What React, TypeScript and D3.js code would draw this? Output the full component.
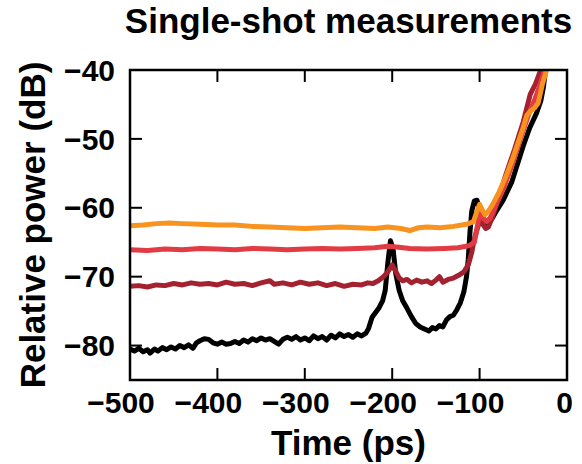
import React from "react";
import * as d3 from "d3";

const xTicks = [-500, -400, -300, -200, -100, 0];
const yTicks = [-80, -70, -60, -50, -40];

const blackSeries: [number, number][] = [
  [-500, -80.5], [-495, -80.8], [-490, -80.4], [-485, -80.9], [-480, -80.6], [-477, -81.1],
  [-472, -80.5], [-468, -80.8], [-463, -80.3], [-458, -80.6], [-453, -80.2], [-448, -80.5],
  [-443, -80.0], [-438, -80.3], [-433, -79.9], [-428, -80.4], [-424, -79.6], [-420, -79.3],
  [-415, -79.0], [-410, -79.1], [-405, -79.6], [-400, -79.8], [-395, -79.5], [-390, -79.8],
  [-385, -79.7], [-380, -79.4], [-375, -79.7], [-370, -79.2], [-365, -79.5], [-360, -79.0],
  [-355, -79.3], [-350, -78.9], [-345, -79.2], [-340, -79.0], [-335, -79.4], [-330, -79.8],
  [-325, -79.1], [-320, -78.8], [-315, -79.1], [-310, -78.7], [-305, -79.2], [-300, -78.9],
  [-295, -79.3], [-290, -78.6], [-285, -79.0], [-280, -78.7], [-275, -79.2], [-270, -78.5],
  [-265, -78.9], [-260, -78.3], [-255, -78.7], [-250, -78.4], [-245, -78.8], [-240, -78.3],
  [-235, -78.6], [-230, -78.2], [-227, -77.5], [-223, -75.9], [-219, -75.2], [-215, -74.5],
  [-211, -73.5], [-208, -72.0], [-205, -68.0], [-202, -64.8], [-199, -66.0], [-196, -69.5],
  [-192, -72.0], [-188, -73.5], [-183, -74.6], [-178, -75.8], [-173, -76.8], [-168, -77.3],
  [-163, -77.6], [-158, -77.9], [-154, -77.4], [-150, -77.6], [-146, -77.1], [-142, -77.3],
  [-138, -76.3], [-134, -75.8], [-130, -75.6], [-126, -74.8], [-122, -73.8], [-118, -72.2],
  [-115, -70.0], [-113, -67.5], [-111, -63.5], [-109, -60.5], [-106, -59.0], [-103, -58.9],
  [-100, -60.2], [-97, -61.4], [-93, -62.4], [-89, -62.2], [-85, -61.4], [-80, -60.3],
  [-73, -58.9], [-63, -56.2], [-55, -53.0], [-50, -51.0], [-43, -48.5], [-35, -46.3],
  [-30, -44.5], [-27, -42.5], [-25, -40.5], [-24, -39.5],
];

const darkRedSeries: [number, number][] = [
  [-500, -71.4], [-490, -71.3], [-480, -71.5], [-470, -71.2], [-460, -71.3], [-450, -71.0],
  [-440, -71.2], [-430, -70.9], [-420, -71.1], [-410, -71.0], [-400, -71.2], [-390, -70.8],
  [-380, -71.1], [-370, -71.0], [-360, -71.3], [-350, -70.9], [-340, -70.6], [-335, -71.1],
  [-325, -70.9], [-315, -71.2], [-305, -70.8], [-295, -71.1], [-285, -70.9], [-275, -71.3],
  [-265, -71.0], [-255, -71.4], [-245, -71.1], [-235, -71.2], [-228, -70.9], [-222, -71.0],
  [-216, -70.6], [-210, -70.0], [-205, -69.3], [-200, -68.3], [-196, -69.2], [-192, -70.2],
  [-188, -70.6], [-183, -70.4], [-178, -70.9], [-172, -70.5], [-166, -70.8], [-160, -70.6],
  [-155, -71.0], [-150, -70.5], [-146, -70.0], [-142, -70.8], [-136, -70.4], [-130, -70.2],
  [-124, -69.8], [-118, -69.3], [-113, -68.3], [-109, -66.5], [-106, -64.5], [-103, -63.2],
  [-100, -62.0], [-97, -62.3], [-93, -63.0], [-90, -62.8], [-85, -61.2], [-78, -58.5],
  [-70, -55.2], [-60, -51.5], [-50, -47.5], [-42, -43.5], [-36, -42.0], [-31, -40.3],
  [-29, -39.5],
];

const redSeries: [number, number][] = [
  [-500, -66.1], [-480, -66.2], [-460, -66.0], [-440, -66.1], [-420, -65.9], [-400, -66.0],
  [-380, -66.1], [-360, -65.9], [-340, -66.0], [-320, -66.1], [-300, -66.0], [-280, -65.9],
  [-260, -66.0], [-240, -65.9], [-220, -65.8], [-205, -65.6], [-195, -65.7], [-180, -65.9],
  [-160, -66.0], [-140, -65.9], [-125, -65.8], [-112, -65.5], [-106, -65.0], [-103, -63.0],
  [-101, -61.5], [-99, -60.8], [-96, -61.5], [-92, -62.0], [-88, -61.5], [-82, -59.8],
  [-72, -57.0], [-62, -53.5], [-52, -49.5], [-44, -46.5], [-36, -44.0], [-30, -41.8],
  [-26, -40.2], [-25, -39.5],
];

const orangeSeries: [number, number][] = [
  [-500, -62.6], [-485, -62.5], [-470, -62.3], [-455, -62.2], [-440, -62.3], [-420, -62.4],
  [-400, -62.5], [-380, -62.5], [-360, -62.7], [-340, -62.8], [-320, -62.9], [-300, -63.0],
  [-280, -62.9], [-260, -62.8], [-240, -62.9], [-220, -63.0], [-205, -62.8], [-190, -63.0],
  [-180, -63.3], [-170, -62.9], [-160, -62.8], [-145, -62.9], [-130, -62.7], [-115, -62.4],
  [-107, -62.0], [-103, -60.5], [-100, -59.5], [-97, -60.3], [-94, -61.0], [-90, -60.5],
  [-85, -59.5], [-78, -57.8], [-70, -55.5], [-62, -52.8], [-55, -50.2], [-50, -48.3],
  [-46, -46.6], [-42, -46.0], [-37, -45.5], [-33, -44.8], [-28, -42.0], [-24, -40.3],
  [-23, -39.5],
];

const seriesColors = ["#000000", "#a4222f", "#e13b44", "#f7931e"];

const W = 582;
const H = 464;
const left = 130;
const right = 567;
const top = 70;
const bottom = 380;
const font = "'Liberation Sans', Arial, Helvetica, sans-serif";

export default function App() {
  const x = d3.scaleLinear().domain([-500, 0]).range([left, right]);
  const y = d3.scaleLinear().domain([-85, -40]).range([bottom, top]);
  const line = d3
    .line<[number, number]>()
    .x((d) => x(d[0]))
    .y((d) => y(d[1]))
    .curve(d3.curveLinear);

  const allSeries = [blackSeries, darkRedSeries, redSeries, orangeSeries];
  const tickLen = 12;

  return (
    <svg
      width={W}
      height={H}
      style={{ position: "absolute", left: 0, top: 0, background: "#fff" }}
      fontFamily={font}
      fontWeight="bold"
    >
      <defs>
        <clipPath id="plotClip">
          <rect x={left} y={top} width={right - left} height={bottom - top} />
        </clipPath>
      </defs>
      <rect x={0} y={0} width={W} height={H} fill="#fff" />

      <g clipPath="url(#plotClip)">
        {allSeries.map((s, i) => (
          <path
            key={i}
            d={line(s) || ""}
            fill="none"
            stroke={seriesColors[i]}
            strokeWidth={5}
            strokeLinejoin="round"
            strokeLinecap="round"
          />
        ))}
      </g>

      {/* ticks */}
      {xTicks.map((t) => (
        <g key={"xt" + t}>
          <line x1={x(t)} x2={x(t)} y1={bottom} y2={bottom - tickLen} stroke="#000" strokeWidth={2} />
          <line x1={x(t)} x2={x(t)} y1={top} y2={top + tickLen} stroke="#000" strokeWidth={2} />
          <text
            x={x(t) + (t < 0 ? -9 : -2.5)}
            y={413}
            fontSize={30}
            textAnchor="middle"
            fill="#000"
          >
            {t < 0 ? "\u2212" + Math.abs(t) : String(t)}
          </text>
        </g>
      ))}
      {yTicks.map((t) => (
        <g key={"yt" + t}>
          <line x1={left} x2={left + tickLen} y1={y(t)} y2={y(t)} stroke="#000" strokeWidth={2} />
          <line x1={right} x2={right - tickLen} y1={y(t)} y2={y(t)} stroke="#000" strokeWidth={2} />
          <text x={115} y={y(t) + 10.7} fontSize={30} textAnchor="end" fill="#000">
            {"\u2212" + Math.abs(t)}
          </text>
        </g>
      ))}

      <rect
        x={left}
        y={top}
        width={right - left}
        height={bottom - top}
        fill="none"
        stroke="#000"
        strokeWidth={2.5}
      />

      <text x={(left + right) / 2} y={33} fontSize={35} textAnchor="middle" fill="#000">
        Single-shot measurements
      </text>
      <text x={(left + right) / 2} y={455} fontSize={35} textAnchor="middle" fill="#000">
        Time (ps)
      </text>
      <text
        transform={`translate(45, ${(top + bottom) / 2}) rotate(-90)`}
        fontSize={35}
        textAnchor="middle"
        fill="#000"
      >
        Relative power (dB)
      </text>
    </svg>
  );
}
